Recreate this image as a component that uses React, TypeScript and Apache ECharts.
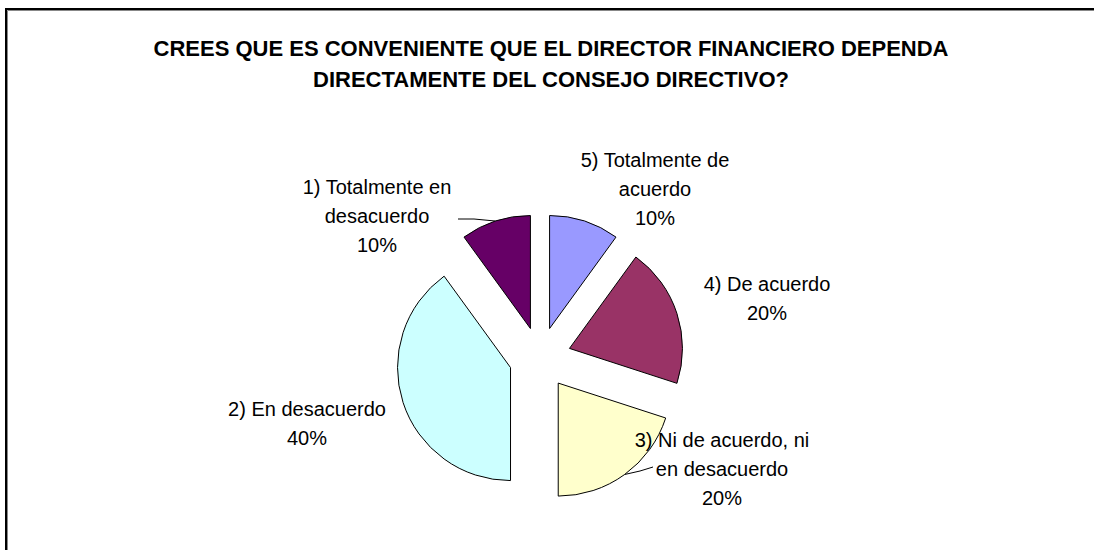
import React, { useEffect, useRef } from 'react';
import * as echarts from 'echarts';

const titleLines = [
  'CREES QUE ES CONVENIENTE QUE EL DIRECTOR FINANCIERO DEPENDA',
  'DIRECTAMENTE DEL CONSEJO DIRECTIVO?',
];
// clockwise from 12 o'clock
const categories = [
  '5) Totalmente de\nacuerdo',
  '4) De acuerdo',
  '3) Ni de acuerdo, ni\nen desacuerdo',
  '2) En desacuerdo',
  '1) Totalmente en\ndesacuerdo',
];
const values = [10, 20, 20, 40, 10];
const colors = ['#9999FF', '#993366', '#FFFFCC', '#CCFFFF', '#660066'];

// label layout (text block centres) and leader lines
const labelCenters = [
  [655, 189],
  [767, 298],
  [722, 469],
  [307, 423],
  [377, 216],
];
const leaderTails: (number[][] | null)[] = [
  null,
  null,
  [[640, 471], [653, 467]],
  null,
  [[474, 219], [458, 219]],
];

const FONT = 'Arial, "Liberation Sans", sans-serif';
const CENTER = [540, 358];
const RADIUS = 113;
const EXPLODE = 31;

export default function App() {
  const ref = useRef<HTMLDivElement>(null);
  useEffect(() => {
    if (!ref.current) return;
    const chart = echarts.init(ref.current, undefined, { renderer: 'svg' });
    chart.setOption({
      animation: false,
      backgroundColor: '#ffffff',
      graphic: [
        {
          type: 'polyline',
          shape: { points: [[7.5, 600], [7.5, 10.5], [1200, 10.5]] },
          style: { fill: 'none', stroke: '#888888', lineWidth: 1 },
          silent: true,
        },
        {
          type: 'polyline',
          shape: { points: [[6, 600], [6, 9], [1200, 9]] },
          style: { fill: 'none', stroke: '#000000', lineWidth: 2 },
          silent: true,
        },
        {
          type: 'text',
          x: 551,
          y: 64,
          style: {
            text: titleLines.join('\n'),
            align: 'center',
            verticalAlign: 'middle',
            fontFamily: FONT,
            fontWeight: 'bold',
            fontSize: 22,
            lineHeight: 31,
            fill: '#000000',
          },
          silent: true,
        },
      ],
      series: [
        {
          // exploded slices
          type: 'pie',
          center: CENTER,
          radius: [0, RADIUS],
          startAngle: 90,
          clockwise: true,
          selectedMode: 'multiple',
          selectedOffset: EXPLODE,
          emphasis: { disabled: true },
          itemStyle: { borderColor: '#000000', borderWidth: 1 },
          label: { show: false },
          labelLine: { show: false },
          data: categories.map((name, i) => ({
            name,
            value: values[i],
            selected: true,
            itemStyle: { color: colors[i] },
          })),
          z: 2,
        },
        {
          // transparent twin carrying the data labels
          type: 'pie',
          center: CENTER,
          radius: [0, RADIUS],
          startAngle: 90,
          clockwise: true,
          silent: true,
          avoidLabelOverlap: false,
          emphasis: { disabled: true },
          itemStyle: { color: 'rgba(0,0,0,0)', borderWidth: 0 },
          label: {
            show: true,
            position: 'outside',
            formatter: '{b}\n{d}%',
            fontFamily: FONT,
            fontSize: 20,
            lineHeight: 29,
            color: '#000000',
            align: 'center',
          },
          labelLine: {
            show: true,
            length: 10,
            length2: 10,
            lineStyle: { color: '#000000', width: 1 },
          },
          labelLayout: (params: any) => {
            const i = params.dataIndex;
            const [x, y] = labelCenters[i];
            const res: any = { x, y, align: 'center', verticalAlign: 'middle' };
            const tail = leaderTails[i];
            if (tail && params.labelLinePoints) {
              const [px, py] = params.labelLinePoints[0];
              const ux = px - CENTER[0];
              const uy = py - CENTER[1];
              const len = Math.hypot(ux, uy) || 1;
              res.labelLinePoints = [
                [px + (ux / len) * EXPLODE, py + (uy / len) * EXPLODE],
                ...tail,
              ];
            }
            return res;
          },
          data: categories.map((name, i) => ({
            name,
            value: values[i],
            labelLine: { show: leaderTails[i] != null },
          })),
          z: 3,
        },
      ],
    });
    return () => chart.dispose();
  }, []);
  return (
    <div
      ref={ref}
      style={{ position: 'absolute', left: 0, top: 0, width: 1094, height: 550 }}
    />
  );
}
